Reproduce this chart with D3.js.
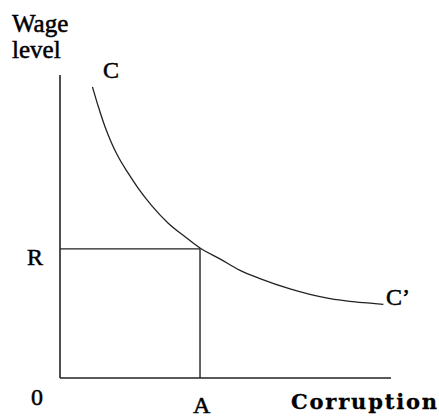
<!DOCTYPE html>
<html>
<head>
<meta charset="utf-8">
<script src="https://cdn.jsdelivr.net/npm/d3@7/dist/d3.min.js"></script>
<style>
  body { margin: 0; background: #fff; }
  text { font-family: "Liberation Serif", "Times New Roman", serif; fill: #000; stroke: #000; stroke-width: 0.5px; }
</style>
</head>
<body>
<div class="chart"></div>
<script>
// curve C-C' (x = corruption, y = wage level, both 0-100)
var curveX = [9.8, 11.6, 13.6, 15.6, 17.6, 20.6, 23.7, 27.7, 32.7, 37.8, 42.3, 48.3, 54.4, 60.4, 69.5, 75.5, 81.6, 87.6, 93.7, 97.7];
var curveY = [96.1, 89.5, 82.9, 77.5, 73.0, 67.6, 62.5, 56.9, 51.1, 46.6, 42.9, 39.3, 35.5, 32.8, 29.4, 27.6, 26.2, 25.3, 24.7, 24.3];

// reservation wage R and corruption level A
var levelR = 42.6;
var levelA = 42.3;

var width = 439, height = 417;

var svg = d3.select(".chart").append("svg")
    .attr("width", width)
    .attr("height", height);

var x = d3.scaleLinear().domain([0, 100]).range([60, 391]);
var y = d3.scaleLinear().domain([0, 100]).range([378, 75]);

var ink = "#222";

// axes: plain lines, no ticks
svg.append("line")
    .attr("x1", x(0)).attr("y1", y(0))
    .attr("x2", x(0)).attr("y2", y(100))
    .attr("stroke", ink).attr("stroke-width", 1.6);
svg.append("line")
    .attr("x1", x(0)).attr("y1", y(0))
    .attr("x2", x(100)).attr("y2", y(0))
    .attr("stroke", ink).attr("stroke-width", 1.6);

// R and A guide lines
svg.append("line")
    .attr("x1", x(0)).attr("y1", y(levelR))
    .attr("x2", x(levelA)).attr("y2", y(levelR))
    .attr("stroke", ink).attr("stroke-width", 1.4);
svg.append("line")
    .attr("x1", x(levelA)).attr("y1", y(levelR))
    .attr("x2", x(levelA)).attr("y2", y(0))
    .attr("stroke", ink).attr("stroke-width", 1.4);

// the curve
var pts = curveX.map(function(d, i) { return [d, curveY[i]]; });
var line = d3.line()
    .x(function(d) { return x(d[0]); })
    .y(function(d) { return y(d[1]); })
    .curve(d3.curveMonotoneX);

svg.append("path")
    .attr("d", line(pts))
    .attr("fill", "none")
    .attr("stroke", ink)
    .attr("stroke-width", 1.3);

// labels
function label(t, px, py, size) {
    return svg.append("text")
        .attr("x", px).attr("y", py)
        .attr("font-size", size)
        .text(t);
}

label("Wage", 12, 32, 25);
label("level", 12, 58, 25);
label("C", 103, 78, 24);
label("R", 27, 265, 24);
label("0", 31, 405, 24);
label("A", 193, 413, 24);
label("C\u2019", 386, 305, 24);

label("Corruption", 291, 409, 21)
    .style("font-family", "'DejaVu Serif', serif")
    .style("stroke-width", "0.3px")
    .attr("font-weight", "bold")
    .attr("textLength", 146)
    .attr("lengthAdjust", "spacing");
</script>
</body>
</html>
